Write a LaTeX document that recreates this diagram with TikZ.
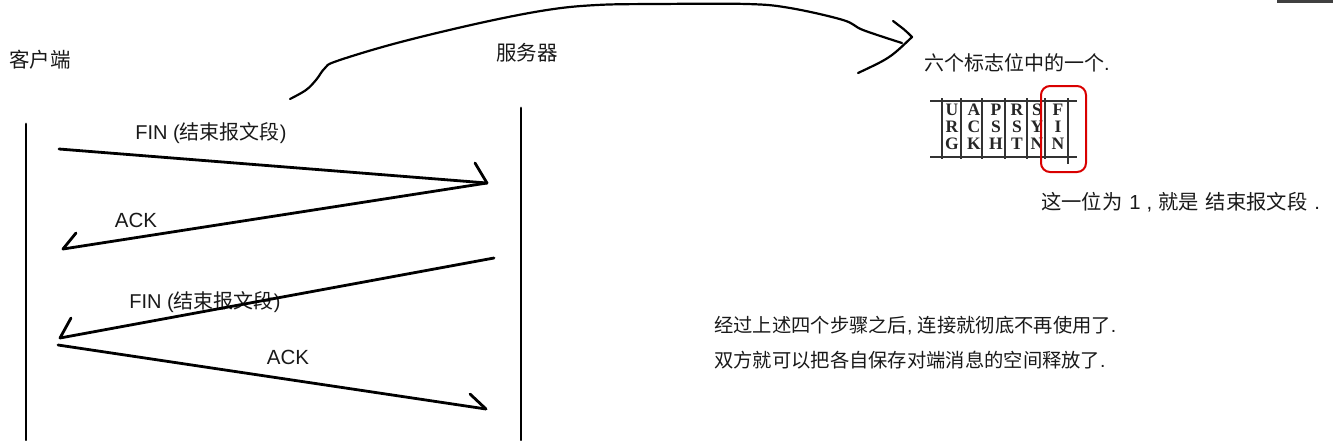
\documentclass[tikz,border=0pt]{standalone}
\usepackage{fontspec}
\setmainfont{Noto Sans CJK SC}
\newfontfamily\lat{Liberation Sans}
\newfontfamily\flagfont{Liberation Serif}
\begin{document}
\begin{tikzpicture}[x=1pt,y=-1pt,
  lbl/.style={inner sep=0pt,font=\fontsize{20.5}{24}\selectfont,text=black!90},
  txt/.style={inner sep=0pt,font=\fontsize{19.3}{23}\selectfont,text=black!90},
  stroke/.style={line width=2.8pt,line cap=round,line join=round},
  thinstroke/.style={line width=2.2pt,line cap=round,line join=round},
  flag/.style={inner sep=0pt,font=\flagfont\bfseries\fontsize{17.5}{17.5}\selectfont,text=black!85},
  rule/.style={line width=1.2pt,black!80}]
\useasboundingbox (0,0) rectangle (1333,440);
\fill[black!75] (1277,0) rectangle (1333,3);
% labels
\node[lbl] (client) at (40,60) {客户端};
\node[lbl] (server) at (527,53) {服务器};
\node[lbl,font=\fontsize{20}{24}\selectfont] (fin1) at (211,133) {{\lat FIN (}结束报文段{\lat )}};
\node[lbl] (ack1) at (136,220) {\lat ACK};
\node[lbl,font=\fontsize{20}{24}\selectfont] (fin2) at (205,302) {{\lat FIN (}结束报文段{\lat )}};
\node[lbl] (ack2) at (288,357) {\lat ACK};
% lifelines
\coordinate (ct) at (26,124); \coordinate (cb) at (26,440);
\coordinate (st) at (521,108); \coordinate (sb) at (521,440);
\draw[stroke] (ct) -- (cb);
\draw[stroke] (st) -- (sb);
% messages
\coordinate (m1a) at (59,149); \coordinate (m1b) at (487,183);
\coordinate (m2b) at (63,249);
\coordinate (m3a) at (494,258); \coordinate (m3b) at (60,338);
\coordinate (m4a) at (58,345); \coordinate (m4b) at (486,409);
\draw[stroke] (m1a) -- (m1b);
\draw[stroke] (475,163) -- (m1b);
\draw[stroke] (m1b) -- (m2b);
\draw[stroke] (76,233) -- (m2b);
\draw[stroke] (m3a) -- (m3b);
\draw[stroke] (71,318) -- (m3b);
\draw[stroke] (m4a) -- (m4b);
\draw[stroke] (470,394) -- (m4b);
% big curved arrow
\draw[thinstroke] plot[smooth,tension=0.6] coordinates {(290,99) (306,90) (316,80) (325,68) (337,61) (397,43) (480,23) (547,10) (597,5) (657,4) (747,4) (790,8) (843,20) (863,30) (902,43)};
\coordinate (tip) at (912,37);
\draw[thinstroke] (893,21) .. controls (905,30) .. (tip) .. controls (890,58) .. (858,73);
% right side texts
\node[txt,font=\fontsize{20}{24}\selectfont,anchor=west] (six) at (924,63) {六个标志位中的一个{\lat .}};
\node[txt,font=\fontsize{20.3}{24}\selectfont,anchor=west] (bit) at (1041,202) {这一位为{\lat\hspace{7pt}1\hspace{6pt},\hspace{6pt}}就是{\lat\hspace{7pt}}结束报文段{\lat\hspace{7pt}.}};
\node[txt,anchor=west] (l1) at (714,326) {经过上述四个步骤之后{\lat , }连接就彻底不再使用了{\lat .}};
\node[txt,anchor=west] (l2) at (714,360) {双方就可以把各自保存对端消息的空间释放了{\lat .}};
% flag table
\draw[rule] (930,101) -- (1077,101);
\draw[rule] (930,157) -- (1077,157);
\foreach \x in {942,961,982,1005,1027,1045} \draw[rule] (\x,98) -- (\x,159);
\draw[rule] (1068,98) -- (1068,164);
\foreach \x/\a/\b/\c [count=\i] in {952/U/R/G,974/A/C/K,996/P/S/H,1017/R/S/T,1037/S/Y/N,1058/F/I/N} {
  \node[flag] (fa\i) at (\x,110) {\a};
  \node[flag] (fb\i) at (\x,127) {\b};
  \node[flag] (fc\i) at (\x,144) {\c};
}
\draw[red!85!black,line width=2pt,rounded corners=9pt] (1041,86) rectangle (1086,172);
\end{tikzpicture}
\end{document}
